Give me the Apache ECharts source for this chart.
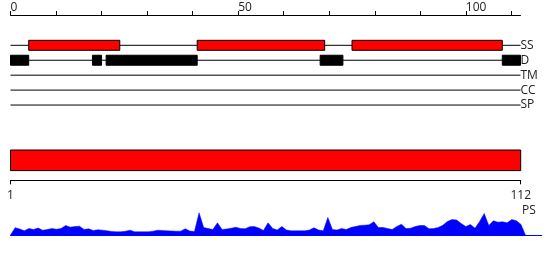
<!DOCTYPE html>
<html><head><meta charset="utf-8">
<script src="https://cdn.jsdelivr.net/npm/echarts@6/dist/echarts.min.js"></script>
<style>html,body{margin:0;padding:0;background:#fff}#c{width:550px;height:260px}</style>
</head><body><div id="c"></div>
<script>
const tracks = ['SS', 'D', 'TM', 'CC', 'SP'];
const topTickValues = [0, 10, 20, 30, 40, 50, 60, 70, 80, 90, 100, 110];
const topLabelValues = [0, 50, 100];
const seqStart = 1, seqEnd = 112;
const ssSegments = [[4, 24], [41, 69], [75, 108]];
const dSegments = [[0, 4], [18, 20], [21, 41], [68, 73], [108, 112]];
const domainSegments = [[1, 112]];
const bottomLabelValues = [1, 112];
const psValues = [0.5,7.8,6.5,4.7,7.0,6.0,7.5,5.3,6.0,7.0,6.2,7.0,10.0,8.3,9.0,9.3,6.0,6.7,5.0,5.7,
5.3,4.7,4.0,3.7,3.7,4.3,5.3,3.7,3.7,3.7,3.7,4.3,5.3,5.0,4.7,4.5,4.3,4.3,6.7,4.5,
4.0,22.7,8.0,7.0,6.0,12.7,6.0,6.5,7.3,8.3,7.0,6.7,8.7,9.0,7.5,5.0,12.7,7.0,5.5,9.0,
5.5,4.7,4.7,4.7,4.7,5.5,7.7,5.5,4.7,18.0,6.0,5.5,7.0,6.0,8.0,9.0,10.0,10.3,10.7,13.7,
8.0,8.0,7.0,6.0,9.0,11.3,7.0,7.3,9.0,10.0,10.0,6.7,7.0,8.0,10.3,14.0,16.0,15.5,12.0,9.0,
11.0,7.3,14.0,22.0,10.0,14.7,13.3,13.7,12.7,16.0,14.7,11.0,0];
const psLabel = 'PS';

const FONT = 'Open Sans';
const chart = echarts.init(document.getElementById('c'), null, {renderer: 'canvas'});

function segRender(fill, h) {
  return function (params, api) {
    const p0 = api.coord([api.value(0), api.value(2)]);
    const p1 = api.coord([api.value(1), api.value(2)]);
    return {type: 'rect', shape: {x: p0[0], y: p0[1] - h / 2, width: p1[0] - p0[0], height: h},
      style: {fill: fill, stroke: '#000', lineWidth: 1}};
  };
}

const option = {
  animation: false,
  grid: [
    {left: 10.5, top: 15, width: 510, height: 97.5},
    {left: 10.5, top: 150, width: 510.2, height: 30.3},
    {left: 10.5, top: 210.5, width: 531.2, height: 25}
  ],
  xAxis: [
    {gridIndex: 0, type: 'value', position: 'top', min: 0, max: seqEnd,
      axisLine: {show: true, onZero: false, lineStyle: {color: '#000', width: 1}},
      axisTick: {show: true, length: 4, customValues: topTickValues, lineStyle: {color: '#000'}},
      axisLabel: {show: true, customValues: topLabelValues, align: 'left', margin: 1,
        color: '#222', fontFamily: FONT, fontSize: 12},
      splitLine: {show: false}},
    {gridIndex: 1, type: 'value', position: 'bottom', min: seqStart, max: seqEnd,
      axisLine: {show: true, onZero: false, lineStyle: {color: '#000', width: 1}},
      axisTick: {show: true, length: 4, customValues: bottomLabelValues, lineStyle: {color: '#000'}},
      axisLabel: {show: true, customValues: bottomLabelValues, margin: 9,
        color: '#222', fontFamily: FONT, fontSize: 12},
      splitLine: {show: false}},
    {gridIndex: 2, type: 'value', min: 1, max: 116.5,
      axisLine: {show: true, onZero: true, lineStyle: {color: '#0000ff', width: 1}},
      axisTick: {show: false}, axisLabel: {show: false}, splitLine: {show: false}}
  ],
  yAxis: [
    {gridIndex: 0, type: 'value', min: -2.03, max: 4.5, inverse: true, position: 'right',
      axisLine: {show: false}, axisTick: {show: false}, splitLine: {show: false},
      axisLabel: {show: true, customValues: [0, 1, 2, 3, 4], margin: 0, align: 'left',
        formatter: v => tracks[v], color: '#222', fontFamily: FONT, fontSize: 12}},
    {gridIndex: 1, type: 'value', min: 0, max: 1, show: false},
    {gridIndex: 2, type: 'value', min: 0, max: 25, show: false}
  ],
  graphic: [
    {type: 'text', left: 522, top: 205, style: {text: psLabel, fill: '#222', font: '12px "' + FONT + '"'}}
  ],
  series: [
    {type: 'custom', xAxisIndex: 0, yAxisIndex: 0, silent: true,
      data: tracks.map((t, i) => [0, seqEnd, i]),
      renderItem: function (params, api) {
        const p0 = api.coord([api.value(0), api.value(2)]);
        const p1 = api.coord([api.value(1), api.value(2)]);
        return {type: 'line', shape: {x1: p0[0], y1: p0[1], x2: p1[0], y2: p1[1]},
          style: {stroke: '#000', lineWidth: 1}};
      }},
    {type: 'custom', xAxisIndex: 0, yAxisIndex: 0, silent: true,
      data: ssSegments.map(s => [s[0], s[1], 0]), renderItem: segRender('#ff0000', 10)},
    {type: 'custom', xAxisIndex: 0, yAxisIndex: 0, silent: true,
      data: dSegments.map(s => [s[0], s[1], 1]), renderItem: segRender('#000000', 10)},
    {type: 'custom', xAxisIndex: 1, yAxisIndex: 1, silent: true,
      data: domainSegments,
      renderItem: function (params, api) {
        const p0 = api.coord([api.value(0), 1]);
        const p1 = api.coord([api.value(1), 0.32]);
        return {type: 'rect', shape: {x: p0[0], y: p0[1], width: p1[0] - p0[0], height: p1[1] - p0[1]},
          style: {fill: '#ff0000', stroke: '#000', lineWidth: 1}};
      }},
    {type: 'line', xAxisIndex: 2, yAxisIndex: 2, silent: true, symbol: 'none',
      data: psValues.map((v, i) => [i + 1, v]),
      lineStyle: {color: '#0000ff', width: 0.5},
      areaStyle: {color: '#0000ff', opacity: 1}}
  ]
};
chart.setOption(option);
</script></body></html>
